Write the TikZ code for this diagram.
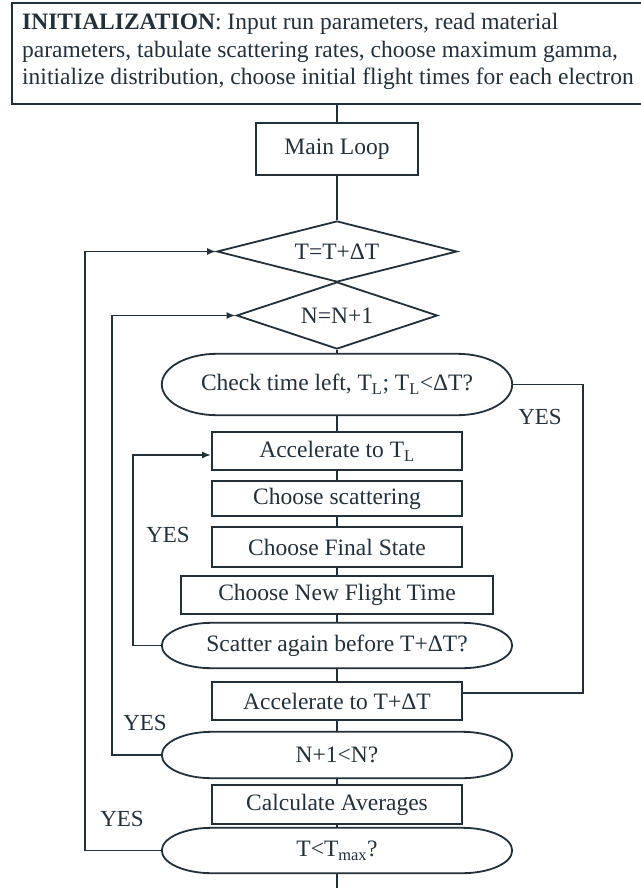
\documentclass[tikz,border=0pt]{standalone}
\usepackage{fontspec}
\setmainfont{Liberation Serif}
\usetikzlibrary{shapes.geometric,arrows.meta,calc}
\definecolor{ink}{RGB}{34,48,58}
\begin{document}
\begin{tikzpicture}[x=1pt,y=-1pt,
  ln/.style={draw=ink,line width=1.8pt},
  txt/.style={text=ink,font=\fontsize{23.5}{27.5}\selectfont},
  box/.style={rectangle,ln,txt,inner sep=0pt},
  oval/.style={rectangle,txt,inner sep=0pt,minimum width=350pt},
  dia/.style={diamond,ln,txt,inner sep=0pt,aspect=4},
  lab/.style={text=ink,font=\fontsize{23}{27}\selectfont,inner sep=0pt},
  arr/.style={ln,-{Latex[length=9pt,width=7pt]}}
]
\useasboundingbox (0,0) rectangle (640,888);

\node[box,anchor=north west,minimum width=648pt,minimum height=101pt] (init) at (11,2) {};
\node[txt,anchor=north west,inner sep=0pt,align=left] (inittext) at (22,13)
  {\textbf{INITIALIZATION}: Input run parameters, read material\\
   parameters, tabulate scattering rates, choose maximum gamma,\\
   initialize distribution, choose initial flight times for each electron};

\node[box,minimum width=162pt,minimum height=52pt] (main) at (337,149) {Main Loop};
\node[dia,minimum width=240pt,minimum height=61pt] (dT) at (337,251.5) {T=T+ΔT};
\node[dia,minimum width=201pt,minimum height=67pt] (N) at (337,315.5) {N=N+1};
\node[oval,minimum height=61pt] (check) at (337,384.5) {Check time left, T\textsubscript{L}; T\textsubscript{L}<ΔT?};
\node[box,minimum width=250pt,minimum height=38pt] (acc1) at (337,451) {Accelerate to T\textsubscript{L}};
\node[box,minimum width=250pt,minimum height=35pt] (scb) at (337,498.5) {Choose scattering};
\node[box,minimum width=250pt,minimum height=40pt] (fin) at (337,547) {Choose Final State};
\node[box,minimum width=312pt,minimum height=38pt] (nft) at (337,595) {Choose New Flight Time};
\node[oval,minimum height=45pt] (scat) at (337,645.5) {Scatter again before T+ΔT?};
\node[box,minimum width=250pt,minimum height=38pt] (acc2) at (337,701) {Accelerate to T+ΔT};
\node[oval,minimum height=46pt] (nless) at (337,755) {N+1<N?};
\node[box,minimum width=250pt,minimum height=39pt] (calc) at (337,804.5) {Calculate Averages};
\node[oval,minimum height=45pt] (tless) at (337,850.5) {T<T\textsubscript{max}?};
\coordinate (end) at (337,888);

% oval outlines
\foreach \nm/\rx in {check/55,scat/50,nless/50,tless/50}{
  \draw[ln] let \p1=(\nm.north west), \p2=(\nm.south east),
    \n1={(\y1-\y2)/2}, \n2={\rx*1pt}, \n3={0.5523*(\y1-\y2)/2}, \n4={0.5523*\rx*1pt} in
    (\x1+\n2,\y1) -- (\x2-\n2,\y1)
    .. controls (\x2-\n2+\n4,\y1) and (\x2,\y1-\n1+\n3) .. (\x2,\y1-\n1)
    .. controls (\x2,\y2+\n1-\n3) and (\x2-\n2+\n4,\y2) .. (\x2-\n2,\y2)
    -- (\x1+\n2,\y2)
    .. controls (\x1+\n2-\n4,\y2) and (\x1,\y2+\n1-\n3) .. (\x1,\y2+\n1)
    .. controls (\x1,\y1-\n1+\n3) and (\x1+\n2-\n4,\y1) .. (\x1+\n2,\y1) -- cycle;
}

% main vertical chain
\draw[ln] (main.north |- init.south) -- (main.north);
\draw[ln] (main.south) -- (dT.north);
\draw[ln] (dT.south) -- (N.north);
\draw[ln] (N.south) -- (check.north);
\draw[ln] (check.south) -- (acc1.north);
\draw[ln] (acc1.south) -- (scb.north);
\draw[ln] (scb.south) -- (fin.north);
\draw[ln] (fin.south) -- (nft.north);
\draw[ln] (nft.south) -- (scat.north);
\draw[ln] (scat.south) -- (acc2.north);
\draw[ln] (acc2.south) -- (nless.north);
\draw[ln] (nless.south) -- (calc.north);
\draw[ln] (calc.south) -- (tless.north);
\draw[ln] (tless.south) -- (end);

% right loop
\coordinate (rc) at (583,693);
\draw[ln] (check.east) -| (rc) -- (rc -| acc2.east);
\node[lab] (yes1) at (540,417) {YES};

% left loops
\coordinate (l1) at (85,251.5);
\draw[arr] (tless.west) -| (l1) -- (dT.west);
\coordinate (l2) at (112,315.5);
\draw[arr] (nless.west) -| (l2) -- (N.west);
\coordinate (l3) at (133,455);
\draw[arr] (scat.west) -| (l3) -- (l3 -| acc1.west);

\node[lab] (yes2) at (168,535) {YES};
\node[lab] (yes3) at (145,723) {YES};
\node[lab] (yes4) at (122,819) {YES};
\end{tikzpicture}
\end{document}
